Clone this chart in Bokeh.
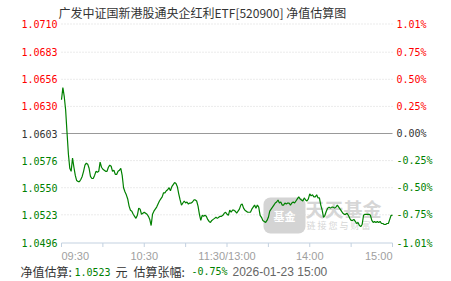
from bokeh.plotting import figure
from bokeh.models import Range1d, Label
from bokeh.core.properties import value
from bokeh.embed import file_html
from bokeh.resources import INLINE

# ---------------- data ----------------
title_text = "广发中证国新港股通央企红利ETF[520900] 净值估算图"
base_nav = 1.0603
pct_ticks = [1.01, 0.75, 0.50, 0.25, 0.00, -0.25, -0.50, -0.75, -1.01]
x_tick_minutes = [0, 60, 120, 180, 240]
x_tick_labels = ["09:30", "10:30", "11:30/13:00", "14:00", "15:00"]
x_minor_minutes = [30, 90, 150, 210]
stamp = "2026-01-23 15:00"

minutes = list(range(241))
nav = [
    1.0636, 1.0648, 1.0639, 1.0626, 1.0604, 1.0583, 1.0569, 1.0566, 1.0579, 1.0570,
    1.0562, 1.0557, 1.0556, 1.0556, 1.0558, 1.0561, 1.0566, 1.0572, 1.0574, 1.0573,
    1.0569, 1.0561, 1.0559, 1.0559, 1.0562, 1.0566, 1.0565, 1.0566, 1.0575, 1.0570,
    1.0568, 1.0567, 1.0566, 1.0566, 1.0570, 1.0572, 1.0571, 1.0566, 1.0567, 1.0563,
    1.0563, 1.0566, 1.0567, 1.0569, 1.0562, 1.0550, 1.0546, 1.0543, 1.0539, 1.0532,
    1.0528, 1.0527, 1.0524, 1.0522, 1.0520, 1.0523, 1.0530, 1.0529, 1.0524, 1.0525,
    1.0526, 1.0525, 1.0524, 1.0522, 1.0519, 1.0513, 1.0524, 1.0527, 1.0529, 1.0531,
    1.0534, 1.0537, 1.0539, 1.0541, 1.0545, 1.0545, 1.0547, 1.0548, 1.0550, 1.0547,
    1.0551, 1.0553, 1.0555, 1.0554, 1.0551, 1.0544, 1.0538, 1.0533, 1.0535, 1.0537,
    1.0535, 1.0536, 1.0534, 1.0535, 1.0535, 1.0536, 1.0538, 1.0538, 1.0537, 1.0532,
    1.0524, 1.0518, 1.0523, 1.0522, 1.0523, 1.0522, 1.0519, 1.0517, 1.0516, 1.0518,
    1.0519, 1.0520, 1.0521, 1.0520, 1.0521, 1.0522, 1.0522, 1.0523, 1.0525, 1.0526,
    1.0524, 1.0523, 1.0528, 1.0526, 1.0528, 1.0528, 1.0527, 1.0525, 1.0527, 1.0529,
    1.0533, 1.0534, 1.0530, 1.0528, 1.0527, 1.0526, 1.0526, 1.0526, 1.0529, 1.0531,
    1.0533, 1.0530, 1.0533, 1.0531, 1.0523, 1.0521, 1.0518, 1.0517, 1.0516, 1.0518,
    1.0521, 1.0527, 1.0529, 1.0531, 1.0533, 1.0535, 1.0536, 1.0538, 1.0535, 1.0536,
    1.0533, 1.0533, 1.0535, 1.0534, 1.0535, 1.0535, 1.0533, 1.0535, 1.0536, 1.0535,
    1.0537, 1.0539, 1.0541, 1.0539, 1.0538, 1.0537, 1.0540, 1.0538, 1.0537, 1.0539,
    1.0544, 1.0542, 1.0543, 1.0541, 1.0541, 1.0543, 1.0540, 1.0540, 1.0533, 1.0528,
    1.0521, 1.0523, 1.0527, 1.0530, 1.0531, 1.0530, 1.0531, 1.0531, 1.0530, 1.0531,
    1.0533, 1.0531, 1.0529, 1.0527, 1.0525, 1.0524, 1.0524, 1.0525, 1.0523, 1.0520,
    1.0518, 1.0518, 1.0519, 1.0517, 1.0515, 1.0516, 1.0513, 1.0512, 1.0514, 1.0523,
    1.0524, 1.0524, 1.0524, 1.0524, 1.0523, 1.0518, 1.0516, 1.0517, 1.0516, 1.0517,
    1.0516, 1.0517, 1.0515, 1.0515, 1.0514, 1.0514, 1.0515, 1.0515, 1.0519, 1.0523,
    1.0523,
]

# ---------------- layout / styles ----------------
RED = "#ff0000"
GREEN = "#008000"
DARK = "#333333"
AXIS = "#c3d1e0"
MONO = "DejaVu Sans Mono"
CJK = "Noto Sans CJK SC"

W, H = 451, 281
X0, X1 = 61, 392      # canvas px of first / last minute
YT, YB = 23.5, 242.5  # canvas px of top / bottom of value range

tick_navs = [base_nav * (1 + pc / 100.0) for pc in pct_ticks]
y_lo, y_hi = min(tick_navs), max(tick_navs)
t_lo, t_hi = x_tick_minutes[0], x_tick_minutes[-1]

kx = (X1 - X0) / (t_hi - t_lo)
ky = (YB - YT) / (y_hi - y_lo)
xr = Range1d(t_lo - X0 / kx, t_hi + (W - X1) / kx)
yr = Range1d(y_lo - (H - YB) / ky, y_hi + YT / ky)


def sx(px):
    return xr.start + px / kx


def sy(py):
    return yr.end - py / ky


p = figure(width=W, height=H, output_backend="svg", toolbar_location=None,
           x_range=xr, y_range=yr, min_border=0, title=None)
p.outline_line_color = None
p.background_fill_color = "white"
p.border_fill_color = "white"
p.xaxis.visible = False
p.yaxis.visible = False
p.grid.visible = False

# grid lines
grid_vals = [v for v, pc in zip(tick_navs, pct_ticks) if pc != 0 and v != y_lo]
p.segment(x0=[t_lo] * len(grid_vals), x1=[t_hi] * len(grid_vals), y0=grid_vals, y1=grid_vals,
          line_color="#d6d6d6", line_width=1, line_dash="1 2")
p.segment(x0=[t_lo], x1=[t_hi], y0=[base_nav], y1=[base_nav], line_color="#999999", line_width=1)

# bottom axis
tick_len = 4 / ky
all_ticks = sorted(x_tick_minutes + x_minor_minutes)
p.segment(x0=[t_lo], x1=[t_hi], y0=[y_lo], y1=[y_lo], line_color=AXIS, line_width=1)
p.segment(x0=all_ticks, x1=all_ticks, y0=[y_lo] * len(all_ticks),
          y1=[y_lo - tick_len] * len(all_ticks), line_color=AXIS, line_width=1)

lab_y = sy(255)
for sl, align in ((slice(0, 1), "left"), (slice(1, -1), "center"), (slice(-1, None), "right")):
    xs = x_tick_minutes[sl]
    p.text(x=xs, y=[lab_y] * len(xs), text=x_tick_labels[sl],
           text_font=value("Liberation Sans"), text_font_size=value("11px"),
           text_color="#a0a0a0", text_align=align, text_baseline="middle")

# watermark
p.add_layout(Label(x=284, y=H - 215, x_units="screen", y_units="screen", text="基金",
                   text_font=CJK, text_font_size="11px", text_color="white", text_font_style="bold",
                   text_align="center", text_baseline="middle",
                   background_fill_color="#d4d4d4", padding=10, border_radius=7, level="underlay"))
p.add_layout(Label(x=305, y=H - 208, x_units="screen", y_units="screen", text="天天基金",
                   text_font=CJK, text_font_size="19px", text_color="#d6d6d6", text_font_style="bold",
                   text_align="left", text_baseline="middle", level="underlay"))
p.add_layout(Label(x=306, y=H - 225, x_units="screen", y_units="screen", text="链 接 您 与 财 富",
                   text_font=CJK, text_font_size="9px", text_color="#d6d6d6",
                   text_align="left", text_baseline="middle", level="underlay"))

# price line
p.line(minutes, nav, line_color=GREEN, line_width=1.2)

# side labels
colors = [RED if pc > 0 else (GREEN if pc < 0 else DARK) for pc in pct_ticks]
p.text(x=[sx(57)] * len(tick_navs), y=tick_navs, text=[f"{v:.4f}" for v in tick_navs],
       text_color=colors, text_font=value(MONO), text_font_size=value("10px"),
       text_align="right", text_baseline="middle")
p.text(x=[sx(396)] * len(tick_navs), y=tick_navs, text=[f"{pc:.2f}%" for pc in pct_ticks],
       text_color=colors, text_font=value(MONO), text_font_size=value("10px"),
       text_align="left", text_baseline="middle")

# title
p.add_layout(Label(x=58, y=H - 12, x_units="screen", y_units="screen", text=title_text,
                   text_align="left", text_baseline="middle", text_font=CJK,
                   text_font_size="12px", text_color=DARK))

# footer
last = nav[-1]
chg = (last / base_nav - 1) * 100
fy = H - 271
footer = [
    (20, "净值估算:", CJK, "12px", DARK),
    (74, f"{last:.4f}", MONO, "10px", GREEN),
    (115, "元", CJK, "12px", DARK),
    (133, "估算张幅:", CJK, "12px", DARK),
    (191, f"{chg:.2f}%", MONO, "10px", GREEN),
    (232, stamp, "Liberation Sans", "12px", "#666666"),
]
for fx, txt, fnt, fs, col in footer:
    p.add_layout(Label(x=fx, y=fy, x_units="screen", y_units="screen", text=txt,
                       text_align="left", text_baseline="middle", text_font=fnt,
                       text_font_size=fs, text_color=col))

open("out.html", "w").write(file_html(p, INLINE))
